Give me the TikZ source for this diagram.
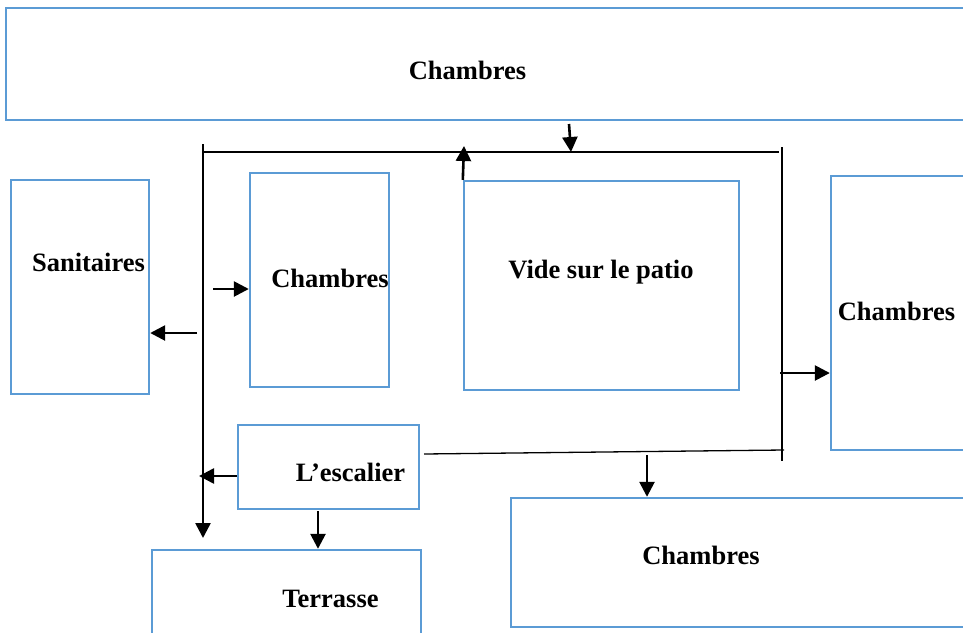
\documentclass[tikz,border=0pt]{standalone}
\usepackage{fontspec}
\setmainfont{Liberation Serif}
\usetikzlibrary{arrows.meta}
\definecolor{roomblue}{RGB}{91,155,213}
\begin{document}
\begin{tikzpicture}[x=1pt, y=-1pt, >={Triangle[length=15pt, width=15pt]},
    room/.style={draw=roomblue, line width=2.4pt, inner sep=0pt},
    roomtext/.style={anchor=base, inner sep=0pt, font=\fontsize{26.5}{30}\selectfont\bfseries},
    move/.style={->, line width=2.6pt},
    wall/.style={line width=1.3pt}]
    \useasboundingbox (0,0) rectangle (963,632);
    \clip (0,0) rectangle (963,632);

    % Rooms
    \node[room, minimum width=964pt, minimum height=112pt] (chtop) at (488,64) {};
    \node[room, minimum width=138pt, minimum height=214pt] (san) at (80,287) {};
    \node[room, minimum width=139pt, minimum height=214pt] (chmid) at (319.5,280) {};
    \node[room, minimum width=275pt, minimum height=209pt] (vide) at (601.5,285.5) {};
    \node[room, minimum width=144pt, minimum height=274pt] (chright) at (903,313) {};
    \node[room, minimum width=181pt, minimum height=84pt] (esc) at (328.5,467) {};
    \node[room, minimum width=269pt, minimum height=100pt] (terr) at (286.5,600) {};
    \node[room, minimum width=464pt, minimum height=129pt] (chbot) at (743,562.5) {};

    % Room names
    \node[roomtext] (chtopl) at (467.5,79) {Chambres};
    \node[roomtext] (sanl) at (88.5,271) {Sanitaires};
    \node[roomtext] (chmidl) at (330,287) {Chambres};
    \node[roomtext] (videl) at (601,278) {Vide sur le patio};
    \node[roomtext] (chrightl) at (896.5,320) {Chambres};
    \node[roomtext] (escl) at (350.5,481) {L’escalier};
    \node[roomtext] (terrl) at (330.5,607) {Terrasse};
    \node[roomtext] (chbotl) at (701,564) {Chambres};

    % Corridor lines
    \coordinate (nw) at (203,144);
    \coordinate (sw) at (203,538);
    \coordinate (hl) at (203,152);
    \coordinate (hr) at (779,152);
    \coordinate (vt) at (782,147);
    \coordinate (vb) at (782,461);
    \coordinate (bl) at (424,454);
    \coordinate (br) at (784,450);
    \draw[move] (nw) -- (sw);
    \draw[wall] (hl) -- (hr);
    \draw[wall] (vt) -- (vb);
    \draw[wall] (bl) -- (br);

    % Arrows
    \coordinate (a1) at (569,124);
    \coordinate (a2) at (464,146);
    \coordinate (a3) at (213,289);
    \coordinate (a4) at (197,333);
    \coordinate (a5) at (199,476);
    \coordinate (a6) at (318,511);
    \coordinate (a7) at (647,455);
    \coordinate (a8) at (780,373);
    \draw[move] (a1) -- (571,152);
    \draw[move] (vide.north west) -- (a2);
    \draw[move] (a3) -- (a3 -| chmid.west);
    \draw[move] (a4) -- (a4 -| san.east);
    \draw[move] (a5 -| esc.west) -- (a5);
    \draw[move] (a6) -- (a6 |- terr.north);
    \draw[move] (a7) -- (a7 |- chbot.north);
    \draw[move] (a8) -- (a8 -| chright.west);
\end{tikzpicture}
\end{document}
